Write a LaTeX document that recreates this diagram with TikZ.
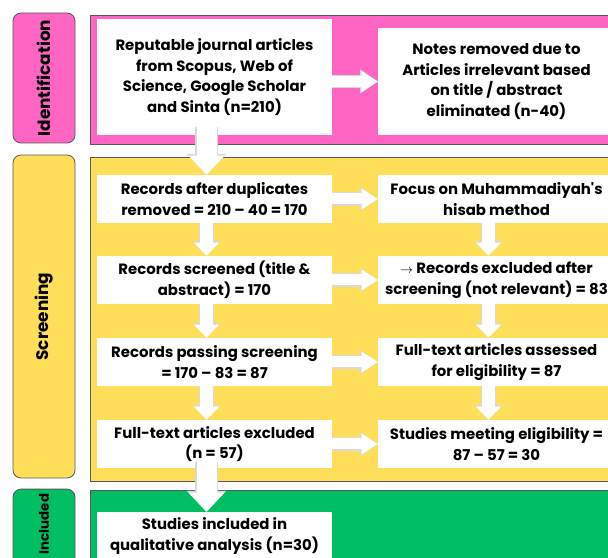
\documentclass[tikz,border=0pt]{standalone}
\usepackage{fontspec}
\setmainfont{Poppins}
\usetikzlibrary{arrows.meta}

\definecolor{idpink}{HTML}{FF66C4}
\definecolor{scryellow}{HTML}{FFDE59}
\definecolor{incgreen}{HTML}{00BF63}

\tikzset{
  box/.style={fill=white, align=center, inner sep=0pt, font=\bfseries\fontsize{10.6}{14.6}\selectfont},
  tag/.style={draw=black!65, line width=0.6pt, rounded corners=0.2cm, minimum height=1.55cm, rotate=90, font=\bfseries\fontsize{12}{14}\selectfont},
  panel/.style={draw=black!65, line width=0.6pt},
  hflow/.style={draw=white, line width=0.275cm, -{Triangle[width=0.525cm,length=0.4cm,line width=0pt]},
    preaction={draw=black!15, line width=0.33cm, -{Triangle[width=0.6cm,length=0.44cm,line width=0pt]}}},
  vflow/.style={draw=white, line width=0.325cm, -{Triangle[width=0.625cm,length=0.325cm,line width=0pt]},
    preaction={draw=black!15, line width=0.38cm, -{Triangle[width=0.7cm,length=0.37cm,line width=0pt]}}},
  bigflow/.style={draw=white, line width=0.5cm, -{Triangle[width=0.9cm,length=0.475cm,line width=0pt]},
    preaction={draw=black!15, line width=0.56cm, -{Triangle[width=0.98cm,length=0.52cm,line width=0pt]}}},
}

\begin{document}
\begin{tikzpicture}

\useasboundingbox (0,0) rectangle (15.2,-13.95);
\clip (0,0) rectangle (15.2,-13.95);

\node (ident) [tag, fill=idpink, minimum width=3.25cm] at (1.1,-1.95) {Identification};
\node (screen) [tag, fill=scryellow, minimum width=8.075cm] at (1.1,-7.9125) {Screening};
\node (incl) [tag, fill=incgreen, minimum width=2.2cm, font=\bfseries\fontsize{9.5}{12}\selectfont] at (1.1,-13.35) {\hspace*{0.5cm}Included};

\draw[panel, fill=idpink] (2.25,-0.375) rectangle (15.5,-3.6);
\draw[panel, fill=scryellow] (2.25,-3.925) rectangle (15.5,-12.025);
\draw[panel, fill=incgreen] (2.25,-12.25) rectangle (15.5,-14.5);

\node (src) [box, minimum width=5.875cm, minimum height=2.9cm] at (5.3625,-1.925) {Reputable journal articles\\from Scopus, Web of\\Science, Google Scholar\\and Sinta (n=210)};
\node (notes) [box, minimum width=5.925cm, minimum height=2.675cm] at (12.4125,-2.0375) {Notes removed due to\\Articles irrelevant based\\on title / abstract\\eliminated (n-40)};

\node (dup) [box, minimum width=5.875cm, minimum height=1.2cm] at (5.3625,-4.975) {Records after duplicates\\removed = 210 -- 40 = 170};
\node (focus) [box, minimum width=5.925cm, minimum height=1.2cm] at (12.4125,-4.975) {Focus on Muhammadiyah\textquotesingle s\\hisab method};
\node (scr) [box, minimum width=5.875cm, minimum height=1.2cm] at (5.3625,-7.0) {Records screened (title \&\\abstract) = 170};
\node (excl) [box, minimum width=5.925cm, minimum height=1.2cm] at (12.4125,-7.0) {{\small$\rightarrow$} Records excluded after\\screening (not relevant) = 83};
\node (pass) [box, minimum width=5.875cm, minimum height=1.2cm] at (5.3625,-9.05) {Records passing screening\\= 170 -- 83 = 87};
\node (full) [box, minimum width=5.925cm, minimum height=1.2cm] at (12.4125,-9.05) {Full-text articles assessed\\for eligibility = 87};
\node (fexcl) [box, minimum width=5.875cm, minimum height=1.2cm] at (5.3625,-11.1) {Full-text articles excluded\\(n = 57)};
\node (meet) [box, minimum width=5.925cm, minimum height=1.2cm] at (12.4125,-11.1) {Studies meeting eligibility =\\87 -- 57 = 30};

\node (qual) [box, minimum width=5.875cm, minimum height=1.2cm] at (5.3625,-13.4) {Studies included in\\qualitative analysis (n=30)};

\draw[hflow] (src.east |- notes.west) -- (notes.west);
\draw[hflow] (dup) -- (focus);
\draw[hflow] (scr) -- (excl);
\draw[hflow] (pass) -- (full);
\draw[hflow] (fexcl) -- (meet);

\draw[bigflow] ([xshift=-0.2cm,yshift=0.2cm]src.south) -- ([xshift=-0.2cm]dup.north);
\draw[vflow] ([xshift=-0.2cm]dup.south) -- ([xshift=-0.2cm]scr.north);
\draw[vflow] ([xshift=-0.2cm]scr.south) -- ([xshift=-0.2cm]pass.north);
\draw[vflow] ([xshift=-0.2cm]pass.south) -- ([xshift=-0.2cm]fexcl.north);
\draw[bigflow] ([xshift=-0.2cm,yshift=0.15cm]fexcl.south) -- ([xshift=-0.2cm]qual.north);

\draw[vflow] ([xshift=-0.2cm]focus.south) -- ([xshift=-0.2cm]excl.north);
\draw[vflow] ([xshift=-0.2cm]excl.south) -- ([xshift=-0.2cm]full.north);
\draw[vflow] ([xshift=-0.2cm]full.south) -- ([xshift=-0.2cm]meet.north);

\end{tikzpicture}
\end{document}
